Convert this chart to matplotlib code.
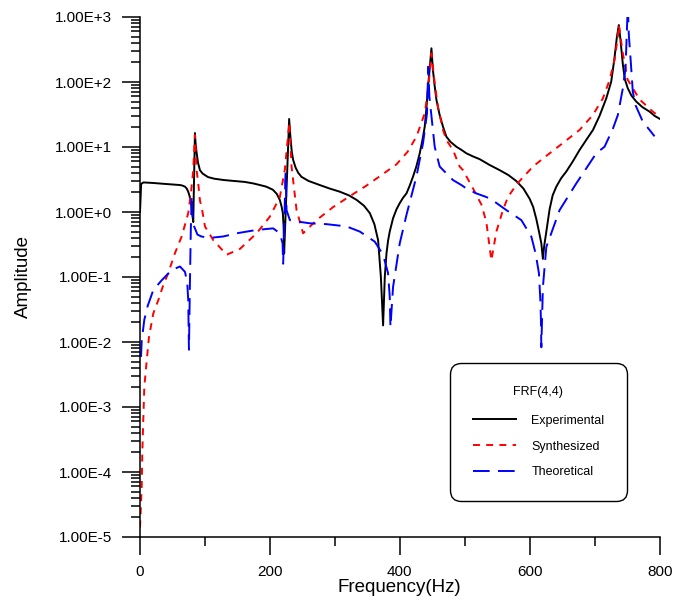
import matplotlib
matplotlib.use("Agg")
import matplotlib.pyplot as plt
import numpy as np
from matplotlib.ticker import MultipleLocator, LogLocator, FuncFormatter, NullFormatter

# values (frequency in Hz, amplitude)
f_exp = [0.8, 2.5, 6, 20, 40, 62, 66, 70, 72.5, 74.9, 77, 79.1, 81.1, 82.6,
         85.2, 86.3, 87.8, 90, 92.9, 97, 105.2, 115, 130,
         162, 175, 185, 195, 205, 211, 215.7, 218.5, 220.3, 221.5, 222.3,
         230, 232, 234, 236.2, 240, 244, 249, 260, 277, 292, 308, 322, 333.5, 345, 354,
         361, 366.7, 371, 374.4,
         377, 379.6, 382, 384.6, 389.7, 395, 400, 405, 410.3, 415, 420.4, 425.5, 430.7,
         435, 438.4, 441, 443.5, 446, 448.7,
         451, 453.5, 456.4, 461, 466.5, 471.7, 478, 487, 495, 502.4, 512, 522.8, 538,
         553.6, 567, 579, 590, 599.6, 605, 609.9, 614, 617.6, 620,
         622, 625.3, 630.3, 635, 640.6, 648, 656, 666, 676.4, 687, 697, 707, 717.4, 722,
         725, 730, 733.5, 736.7, 739, 743, 746, 750.5, 756, 763.5, 773, 784, 792, 800]
a_exp = [1.0, 2.7, 2.85, 2.8, 2.7, 2.6, 2.55, 2.45, 2.3, 2.05, 1.75, 1.4, 0.96, 0.7,
         16.4, 11, 8.1, 5.7, 4.4, 3.9, 3.45, 3.25, 3.1,
         2.9, 2.75, 2.6, 2.45, 2.2, 1.9, 1.53, 1.2, 0.96, 0.6, 0.23,
         27, 14, 8.5, 6.3, 4.8, 4.0, 3.47, 3.0, 2.6, 2.3, 2.05, 1.8, 1.54, 1.25, 0.96,
         0.65, 0.37, 0.1, 0.018,
         0.1, 0.23, 0.36, 0.5, 0.8, 1.1, 1.37, 1.65, 1.93, 2.5, 3.5, 5.0, 8.0,
         13, 20.5, 40, 85, 160, 330,
         153, 90, 53, 32, 20.5, 14.4, 12, 10.1, 9.0, 8.0, 7.2, 6.5, 5.3,
         4.4, 3.7, 3.0, 2.3, 1.6, 1.2, 0.78, 0.5, 0.33, 0.19,
         0.3, 0.5, 1.1, 1.8, 2.45, 3.3, 4.2, 6.0, 9.0, 13, 18.3, 30, 56, 80,
         101, 232, 470, 753, 470, 183, 110, 80, 62, 50, 41, 35, 30, 27]

f_syn = [0.8, 3.4, 4.3, 5.8, 7.4, 11.1, 14.6, 21.2, 28.9, 36.5, 44.2, 54.5, 64.8, 74.9,
         79.1, 82.6, 85.2, 87.8, 90.3, 92.9, 95.5, 100.6, 113.3, 133.9, 154.3, 180, 200.4,
         215.7, 223.4, 230.3, 233.7, 241.4, 251.5, 272.1, 297.6, 323.2, 348.9, 371.9,
         394.9, 412.3, 425.6, 438.4, 443.5, 448.7, 454, 459, 466.5, 471.7, 481.8, 492.1,
         497.2, 512.6, 525.5, 533.1, 540.8, 548.5, 558.6, 566.3, 574, 584.3, 604.7, 625.3,
         650.7, 676.4, 696.8, 712.2, 722.5, 730.1, 735.2, 736.7, 742.9, 750, 768.5, 789, 800]
a_syn = [1.4e-5, 5.9e-5, 1.95e-4, 6.3e-4, 2.05e-3, 5.2e-3, 0.012, 0.0275, 0.044, 0.075,
         0.115, 0.233, 0.42, 0.96, 1.96, 4.4, 15.3, 4.4, 2.75, 1.5, 1.19, 0.6, 0.37, 0.22,
         0.27, 0.47, 0.85, 1.7, 4.5, 24, 5.0, 1.07, 0.47, 0.75, 1.19, 1.75, 2.55, 3.7,
         5.4, 8.5, 14.4, 33, 75, 276, 90, 40, 18.3, 12.8, 9.0, 5.0, 4.4, 2.3, 1.3, 0.7,
         0.18, 0.5, 1.07, 1.7, 2.2, 3.0, 5.0, 7.3, 11.5, 18.3, 31, 56, 107, 218, 500, 753,
         276, 110, 54, 35, 29]

f_the = [2.3, 3.4, 7.4, 12.6, 21.2, 34.1, 49.4, 62.2, 69.9, 73.4, 74.9, 76, 77.5, 78.8,
         80.2, 81.5, 84, 89, 95, 108.3, 128.7, 149.3, 180, 205.5, 215.7, 219.9, 220.8,
         222.3, 223.4, 224.5, 226, 231.1, 236.2, 261.8, 287.5, 318.2, 338.6, 361.6, 374.4,
         382, 384.6, 385.7, 389.7, 400, 410.3, 425.6, 435.8, 441.9, 443.8, 445.5, 448.7,
         453.7, 458.8, 461.4, 474.2, 481.8, 494.7, 502.4, 517.8, 533.1, 543.3, 563.8,
         586.9, 602.2, 608.8, 613.9, 616.1, 617, 617.6, 620, 625.3, 645.7, 671.3, 702,
         714.8, 727.5, 735.2, 742.9, 747, 750.5, 752.1, 754.7, 758.2, 762.4, 773.6, 783.9,
         791.6]
a_the = [0.0059, 0.0104, 0.022, 0.036, 0.063, 0.089, 0.128, 0.145, 0.12, 0.081, 0.044,
         0.0076, 0.08, 0.5, 1.8, 0.9, 0.6, 0.45, 0.42, 0.40, 0.42, 0.47, 0.53, 0.56, 0.47,
         0.33, 0.16, 0.5, 1.5, 4.1, 1.07, 0.75, 0.73, 0.67, 0.65, 0.6, 0.5, 0.35, 0.22,
         0.115, 0.05, 0.017, 0.07, 0.33, 0.9, 3.5, 11.5, 33, 172, 60, 30, 10.1, 6.3, 5.0,
         3.7, 3.1, 2.6, 2.3, 1.93, 1.7, 1.5, 1.07, 0.75, 0.42, 0.23, 0.115, 0.044, 0.022,
         0.0083, 0.07, 0.29, 1.07, 2.75, 8.0, 10.1, 19, 31, 80, 162, 1500, 530, 232, 71,
         44, 24.5, 18.3, 14.6]

plt.rcParams['font.family'] = ['Liberation Sans', 'DejaVu Sans']
plt.rcParams['lines.scale_dashes'] = False

fig = plt.figure(figsize=(6.93, 6.12), dpi=100)
ax = fig.add_axes([139.5 / 693, 1 - 537 / 612, 520.5 / 693, 520 / 612])

ax.plot(f_exp, a_exp, color='black', lw=1.4, label='Experimental')
ax.plot(f_syn, a_syn, color='red', lw=1.4, dashes=(5, 4.5), label='Synthesized')
ax.plot(f_the, a_the, color='blue', lw=1.4, dashes=(12, 6), label='Theoretical')

ax.set_yscale('log')
ax.set_xlim(0, 800)
ax.set_ylim(1e-5, 1e3)

for s in ['top', 'right']:
    ax.spines[s].set_visible(False)
for s in ['left', 'bottom']:
    ax.spines[s].set_linewidth(1.1)

ax.xaxis.set_major_locator(MultipleLocator(200))
ax.xaxis.set_minor_locator(MultipleLocator(100))
ax.yaxis.set_major_locator(LogLocator(base=10, numticks=20))
ax.yaxis.set_minor_locator(LogLocator(base=10, subs=np.arange(2, 10), numticks=20))
ax.yaxis.set_minor_formatter(NullFormatter())
ax.yaxis.set_major_formatter(FuncFormatter(
    lambda v, p: "1.00E{:+d}".format(int(round(np.log10(v))))))

ax.tick_params(which='major', direction='out', length=13, width=1.1, labelsize=11)
ax.tick_params(which='minor', direction='out', length=6.5, width=1.1)
ax.tick_params(axis='x', which='major', pad=7)
ax.tick_params(axis='y', which='major', pad=6.5)

ax.set_xlabel('Frequency(Hz)', fontsize=13.5)
ax.set_ylabel('Amplitude', fontsize=13.5)
ax.xaxis.set_label_coords(0.5, -0.0817)
ax.yaxis.set_label_coords(-0.2065, 0.5)

leg = ax.legend(loc='upper left', bbox_to_anchor=(450 / 693, 1 - 363 / 612),
                bbox_transform=fig.transFigure, title='FRF(4,4)', fontsize=9,
                title_fontsize=9, frameon=True, fancybox=True, borderpad=1.8,
                labelspacing=1.1, handlelength=3.5, handletextpad=1.2, borderaxespad=0)
# a little more room between the title and the entries
leg._legend_box.sep = 12.5
frame = leg.get_frame()
frame.set_edgecolor('black')
frame.set_linewidth(1.0)
frame.set_facecolor('white')
frame.set_alpha(1)
frame.set_boxstyle('round,pad=0,rounding_size=0.9')

fig.savefig('out.png', dpi=100)
